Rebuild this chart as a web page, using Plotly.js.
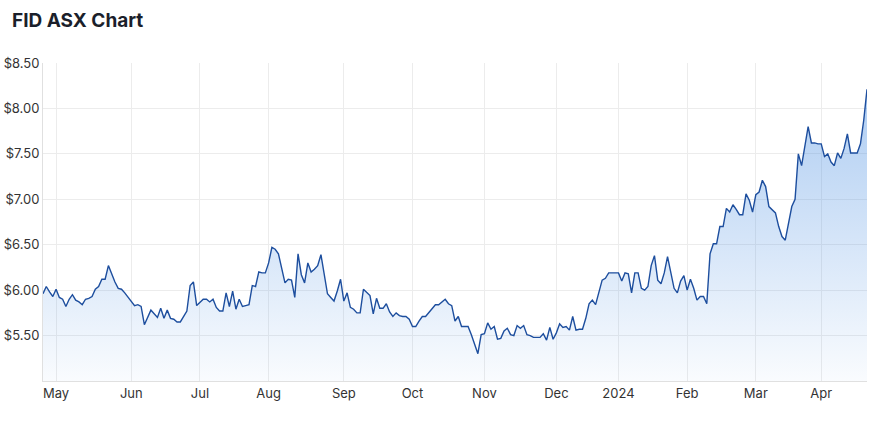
<!DOCTYPE html>
<html>
<head>
<meta charset="utf-8">
<script src="https://cdn.plot.ly/plotly-3.0.1.min.js"></script>
<style>
  html, body { margin: 0; padding: 0; background: #ffffff; }
  #chart { width: 880px; height: 424px; }
</style>
</head>
<body>
<div id="chart"></div>
<script>
// ---- Data ----
const ticker = "FID ASX Chart";
const startDate = "2023-04-24";
const asxHolidays = ["2023-04-25","2023-06-12","2023-12-25","2023-12-26","2024-01-01","2024-01-26","2024-03-29","2024-04-01"];

// daily closing prices, one per trading day
const prices = [
  5.96,6.04,5.98,5.93,6.01,5.92,5.90,5.82,5.90,5.95,
  5.89,5.87,5.84,5.90,5.91,5.93,6.01,6.04,6.12,6.12,
  6.27,6.17,6.09,6.02,6.01,5.97,5.92,5.88,5.83,5.84,
  5.82,5.62,5.71,5.78,5.74,5.70,5.80,5.69,5.78,5.69,
  5.68,5.65,5.65,5.71,5.77,6.05,6.09,5.83,5.87,5.90,
  5.90,5.87,5.90,5.81,5.77,5.77,5.97,5.82,5.99,5.79,
  5.90,5.82,5.83,5.84,6.05,6.04,6.20,6.19,6.19,6.30,
  6.47,6.45,6.40,6.25,6.08,6.12,6.11,5.92,6.40,6.17,
  6.08,6.30,6.20,6.23,6.27,6.39,6.19,5.96,5.92,5.88,
  5.99,6.12,5.88,5.97,5.81,5.79,5.75,5.75,6.01,5.98,
  5.94,5.74,5.91,5.80,5.80,5.85,5.76,5.71,5.75,5.72,
  5.71,5.71,5.68,5.60,5.60,5.66,5.71,5.71,5.75,5.79,
  5.84,5.84,5.87,5.90,5.85,5.83,5.66,5.71,5.60,5.60,
  5.60,5.51,5.40,5.30,5.51,5.52,5.64,5.57,5.60,
  5.46,5.47,5.55,5.58,5.51,5.50,5.61,5.58,5.61,5.51,5.50,
  5.48,5.48,5.48,5.52,5.45,5.59,5.46,5.53,5.63,5.59,
  5.60,5.56,5.71,5.56,5.57,5.57,5.69,5.85,5.89,5.84,
  5.99,6.11,6.13,6.19,6.19,6.19,6.19,6.10,6.19,6.18,
  5.97,6.19,6.19,6.02,6.00,6.04,6.27,6.38,6.11,
  6.07,6.19,6.37,6.19,6.02,5.97,6.10,6.16,6.00,6.12,
  6.02,5.89,
  5.93,5.93,5.85,6.40,6.51,6.51,6.70,6.70,6.90,6.86,
  6.94,6.89,6.83,6.83,7.06,6.99,6.86,7.05,7.08,7.21,
  7.14,6.92,6.88,6.85,6.70,6.59,6.55,6.72,6.92,7.00,
  7.50,7.37,7.61,7.80,7.62,7.62,7.61,7.61,7.47,7.50,
  7.41,7.37,7.51,7.45,7.56,7.72,7.51,7.51,7.51,7.61,
  7.87,8.21
];

const monthTickDates = ["2023-05-01","2023-06-01","2023-07-03","2023-08-01","2023-09-01","2023-10-02","2023-11-01","2023-12-01","2024-01-02","2024-02-01","2024-03-01","2024-04-02"];
const monthTickLabels = ["May","Jun","Jul","Aug","Sep","Oct","Nov","Dec","2024","Feb","Mar","Apr"];
const priceTicks = [5.5, 6.0, 6.5, 7.0, 7.5, 8.0, 8.5];
const priceTickLabels = ["$5.50","$6.00","$6.50","$7.00","$7.50","$8.00","$8.50"];

// ---- Trading-day calendar (weekdays minus ASX holidays) ----
function tradingDays(start, n, holidays) {
  const out = [];
  const d = new Date(start + "T00:00:00Z");
  while (out.length < n) {
    const wd = d.getUTCDay();
    const s = d.toISOString().slice(0, 10);
    if (wd !== 0 && wd !== 6 && holidays.indexOf(s) === -1) out.push(s);
    d.setUTCDate(d.getUTCDate() + 1);
  }
  return out;
}
const dates = tradingDays(startDate, prices.length, asxHolidays);

const FONT = "Inter, 'Noto Sans', 'DejaVu Sans', sans-serif";

const trace = {
  x: dates,
  y: prices,
  type: "scatter",
  mode: "lines",
  line: { color: "#1d4e9e", width: 1.4 },
  fill: "tozeroy",
  fillgradient: {
    type: "vertical",
    start: 5.0,
    stop: 8.3,
    colorscale: [[0, "rgba(70,140,225,0.03)"], [1, "rgba(70,140,225,0.45)"]]
  },
  hoverinfo: "skip"
};

const layout = {
  width: 880,
  height: 424,
  margin: { l: 43, r: 13, t: 63, b: 43 },
  paper_bgcolor: "#ffffff",
  plot_bgcolor: "#ffffff",
  showlegend: false,
  font: { family: FONT, size: 13, color: "#333333" },
  title: {
    text: "<b>" + ticker + "</b>",
    font: { family: FONT, size: 19, color: "#1b1f2b" },
    xref: "container", yref: "container",
    x: 12 / 880, xanchor: "left",
    y: 1 - 20 / 424, yanchor: "middle"
  },
  xaxis: {
    type: "category",
    range: [0, prices.length - 1],
    tickmode: "array",
    tickvals: monthTickDates,
    ticktext: monthTickLabels,
    showgrid: true,
    gridcolor: "#ececec",
    gridwidth: 1,
    showline: true,
    linecolor: "#e0e0e0",
    linewidth: 1,
    ticks: "",
    tickfont: { family: FONT, size: 13, color: "#333333" },
    zeroline: false,
    fixedrange: true
  },
  yaxis: {
    range: [5.0, 8.5],
    tickmode: "array",
    tickvals: priceTicks,
    ticktext: priceTickLabels,
    showgrid: true,
    gridcolor: "#ececec",
    gridwidth: 1,
    showline: true,
    linecolor: "#e0e0e0",
    linewidth: 1,
    ticks: "",
    tickfont: { family: FONT, size: 13, color: "#333333" },
    zeroline: false,
    fixedrange: true
  }
};

Plotly.newPlot("chart", [trace], layout, { displayModeBar: false, staticPlot: true });
</script>
</body>
</html>
